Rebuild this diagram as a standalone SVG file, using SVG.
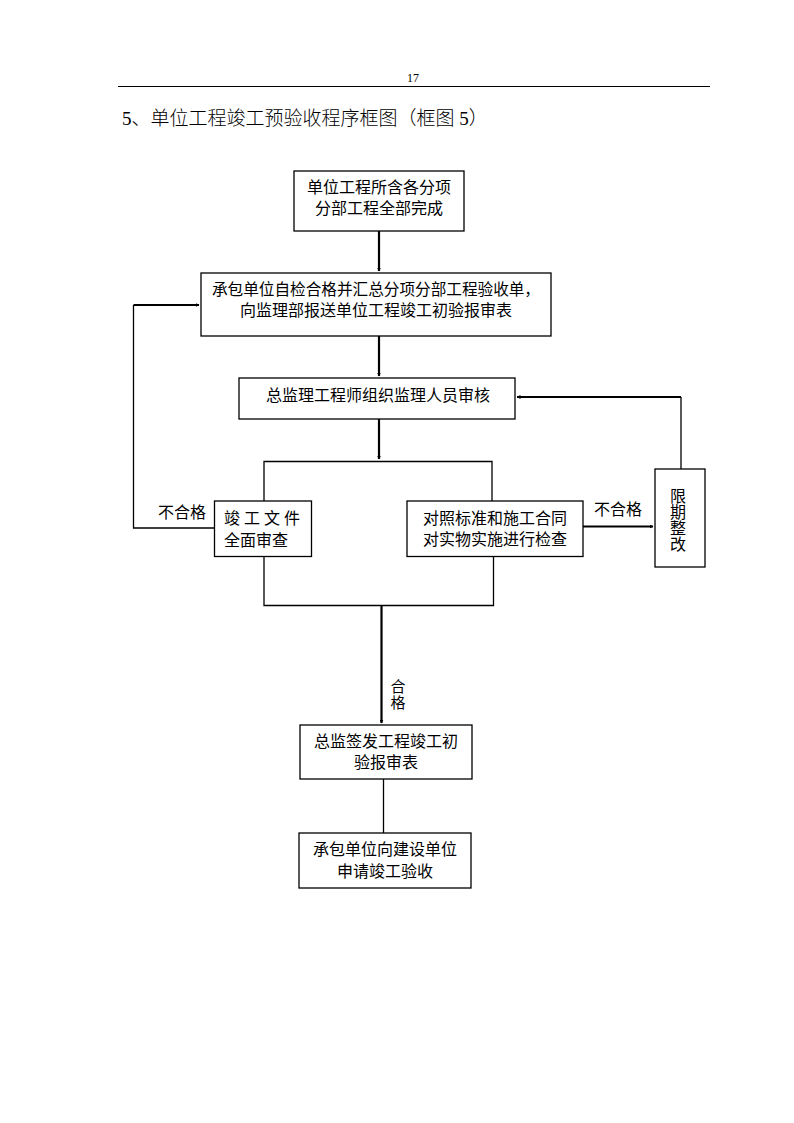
<svg xmlns="http://www.w3.org/2000/svg" width="794" height="1123" viewBox="0 0 794 1123">
<style>
.bx{fill:#fff;stroke:#000;stroke-width:1.3}
.t{font-family:"Liberation Sans","Noto Sans CJK SC",sans-serif;font-size:16px;fill:#000;text-anchor:middle}
.tl{font-family:"Liberation Sans","Noto Sans CJK SC",sans-serif;font-size:16px;fill:#000}
.thin{stroke:#000;stroke-width:1.3;fill:none}
.thick{stroke:#000;stroke-width:2.2;fill:none}
</style>
<defs>
<marker id="ah" markerWidth="4" markerHeight="4" refX="3.5" refY="2" orient="auto" markerUnits="userSpaceOnUse">
<path d="M0,0 L4,2 L0,4 Z" fill="#000"/>
</marker>
</defs>
<rect width="794" height="1123" fill="#fff"/>
<g id="header">
<text x="413" y="82" style="font-family:'Liberation Serif',serif;font-size:12px;text-anchor:middle">17</text>
<line x1="118" y1="86.5" x2="710" y2="86.5" stroke="#000" stroke-width="1.2"/>
<text x="122" y="125" style="font-family:'Liberation Serif','Noto Sans CJK SC',serif;font-size:19px;font-weight:300">5、单位工程竣工预验收程序框图（框图 5）</text>
</g>
<g id="connectors">
<line class="thick" x1="379" y1="231" x2="379" y2="271" marker-end="url(#ah)"/>
<line class="thick" x1="379" y1="336" x2="379" y2="376" marker-end="url(#ah)"/>
<line class="thick" x1="379" y1="419" x2="379" y2="459" marker-end="url(#ah)"/>
<polyline class="thin" points="264,501 264,461.5 492,461.5 492,501"/>
<polyline class="thin" points="264,556 264,605.5 493.5,605.5 493.5,556"/>
<line class="thick" x1="381.5" y1="605" x2="381.5" y2="723" marker-end="url(#ah)"/>
<line class="thin" x1="383.5" y1="779" x2="383.5" y2="833"/>
<polyline class="thin" points="215,528 133.5,528 133.5,305"/>
<line class="thick" x1="133.5" y1="305" x2="199" y2="305" marker-end="url(#ah)"/>
<line class="thick" x1="583" y1="526.5" x2="653" y2="526.5" marker-end="url(#ah)"/>
<polyline class="thin" points="681,469 681,397"/>
<line class="thick" x1="681" y1="397" x2="517" y2="397" marker-end="url(#ah)"/>
<text class="tl" x="158" y="518">不合格</text>
<text class="tl" x="594" y="515">不合格</text>
<text class="t" x="398" y="692" style="font-size:15px">合</text>
<text class="t" x="398" y="708" style="font-size:15px">格</text>
</g>
<g id="n1">
<rect class="bx" x="294" y="171" width="170" height="60"/>
<text class="t" x="379" y="193">单位工程所含各分项</text>
<text class="t" x="379" y="214">分部工程全部完成</text>
</g>
<g id="n2">
<rect class="bx" x="201" y="273" width="350" height="63"/>
<text class="t" x="376" y="295" textLength="328" lengthAdjust="spacingAndGlyphs">承包单位自检合格并汇总分项分部工程验收单，</text>
<text class="t" x="376" y="316">向监理部报送单位工程竣工初验报审表</text>
</g>
<g id="n3">
<rect class="bx" x="239" y="378" width="276" height="41"/>
<text class="t" x="378" y="401">总监理工程师组织监理人员审核</text>
</g>
<g id="n4">
<rect class="bx" x="214.5" y="501" width="97" height="55.5"/>
<text class="tl" x="224" y="524" textLength="76" lengthAdjust="spacing">竣工文件</text>
<text class="tl" x="224" y="546">全面审查</text>
</g>
<g id="n5">
<rect class="bx" x="407" y="501" width="176" height="55.5"/>
<text class="t" x="495" y="524">对照标准和施工合同</text>
<text class="t" x="495" y="545">对实物实施进行检查</text>
</g>
<g id="n6">
<rect class="bx" x="655" y="469" width="50" height="98"/>
<text class="t" x="678" y="502">限</text>
<text class="t" x="678" y="518">期</text>
<text class="t" x="678" y="534">整</text>
<text class="t" x="678" y="550">改</text>
</g>
<g id="n7">
<rect class="bx" x="300" y="725" width="172" height="54"/>
<text class="t" x="386" y="747">总监签发工程竣工初</text>
<text class="t" x="386" y="768">验报审表</text>
</g>
<g id="n8">
<rect class="bx" x="299" y="833" width="172" height="55"/>
<text class="t" x="385" y="855">承包单位向建设单位</text>
<text class="t" x="385" y="877">申请竣工验收</text>
</g>
</svg>
